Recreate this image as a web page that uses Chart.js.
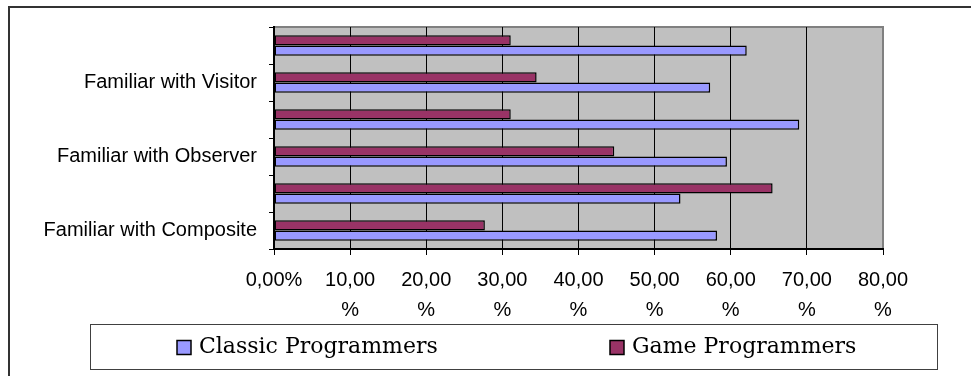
<!DOCTYPE html>
<html>
<head>
<meta charset="utf-8">
<script src="https://cdn.jsdelivr.net/npm/chart.js@4/dist/chart.umd.min.js"></script>
<style>
  html, body { margin: 0; padding: 0; background: #fff; }
  canvas { display: block; }
</style>
</head>
<body>
<canvas id="chart" width="971" height="376"></canvas>
<script>
// Categories listed top to bottom; the unlabeled rows have no printed name.
const categories = ['', 'Familiar with Visitor', '', 'Familiar with Observer', '', 'Familiar with Composite'];
const classicValues = [62.1, 57.3, 69.0, 59.5, 53.4, 58.2];
const gameValues = [31.1, 34.5, 31.1, 44.7, 65.5, 27.7];
const seriesNames = ['Classic Programmers', 'Game Programmers'];
const seriesColors = ['#9999FF', '#993366'];
// Axis labels; a space marks where the label wraps onto a second line.
const xTickLabels = ['0,00%', '10,00 %', '20,00 %', '30,00 %', '40,00 %', '50,00 %', '60,00 %', '70,00 %', '80,00 %'];

// Grey plot area with a thin grey frame, plus the outer frame of the figure.
const backdrop = {
  id: 'backdrop',
  beforeDraw(chart) {
    const { ctx, chartArea: a } = chart;
    ctx.save();
    ctx.fillStyle = '#C0C0C0';
    ctx.fillRect(a.left, a.top, a.right - a.left, a.bottom - a.top);
    ctx.strokeStyle = '#808080';
    ctx.lineWidth = 2;
    ctx.strokeRect(a.left, a.top, a.right - a.left, a.bottom - a.top);
    ctx.strokeStyle = '#333';
    ctx.lineWidth = 2;
    ctx.beginPath();
    ctx.moveTo(9, 376);
    ctx.lineTo(9, 7);
    ctx.lineTo(971, 7);
    ctx.stroke();
    ctx.restore();
  }
};

// Boxed legend along the bottom, classic series first.
const boxedLegend = {
  id: 'boxedLegend',
  afterDraw(chart) {
    const { ctx } = chart;
    ctx.save();
    ctx.strokeStyle = '#404040';
    ctx.lineWidth = 1;
    ctx.strokeRect(90.5, 324.5, 847, 45);
    const items = [
      { name: seriesNames[0], color: seriesColors[0], x: 177 },
      { name: seriesNames[1], color: seriesColors[1], x: 610 }
    ];
    ctx.font = '22px "DejaVu Serif"';
    ctx.textBaseline = 'middle';
    ctx.textAlign = 'left';
    items.forEach(it => {
      ctx.fillStyle = it.color;
      ctx.fillRect(it.x, 340.5, 14, 14);
      ctx.strokeStyle = '#000';
      ctx.lineWidth = 1.5;
      ctx.strokeRect(it.x, 340.5, 14, 14);
      ctx.fillStyle = '#000';
      ctx.fillText(it.name, it.x + 22, 347);
    });
    ctx.restore();
  }
};

const barStyle = {
  borderColor: '#000',
  borderWidth: 1.5,
  borderSkipped: false,
  categoryPercentage: 0.55,
  barPercentage: 1
};

new Chart(document.getElementById('chart'), {
  type: 'bar',
  data: {
    labels: categories,
    datasets: [
      Object.assign({ label: seriesNames[1], data: gameValues, backgroundColor: seriesColors[1] }, barStyle),
      Object.assign({ label: seriesNames[0], data: classicValues, backgroundColor: seriesColors[0] }, barStyle)
    ]
  },
  options: {
    indexAxis: 'y',
    responsive: false,
    animation: false,
    devicePixelRatio: 1,
    layout: { padding: { top: 27, right: 88, left: 0, bottom: 0 } },
    plugins: {
      legend: { display: false },
      tooltip: { enabled: false }
    },
    scales: {
      x: {
        type: 'linear',
        min: 0,
        max: 80,
        afterFit(scale) { scale.height = 127; },
        ticks: {
          stepSize: 10,
          autoSkip: false,
          maxRotation: 0,
          padding: 10,
          color: '#000',
          font: { family: '"Liberation Sans", Arial, sans-serif', size: 20, lineHeight: 1.5 },
          callback(value, index) {
            const t = xTickLabels[index];
            return t.includes(' ') ? t.split(' ') : t;
          }
        },
        grid: {
          color: ctx => (ctx.tick && ctx.tick.value === 80 ? '#808080' : '#000'),
          tickColor: '#000',
          tickLength: 6,
          lineWidth: 1
        },
        border: { color: '#000', width: 2 }
      },
      y: {
        afterFit(scale) { scale.width = 274; },
        ticks: {
          autoSkip: false,
          padding: 12,
          color: '#000',
          font: { family: '"Liberation Sans", Arial, sans-serif', size: 20 }
        },
        grid: {
          drawOnChartArea: false,
          tickColor: '#000',
          tickLength: 5
        },
        border: { color: '#000', width: 2 }
      }
    }
  },
  plugins: [backdrop, boxedLegend]
});
</script>
</body>
</html>
